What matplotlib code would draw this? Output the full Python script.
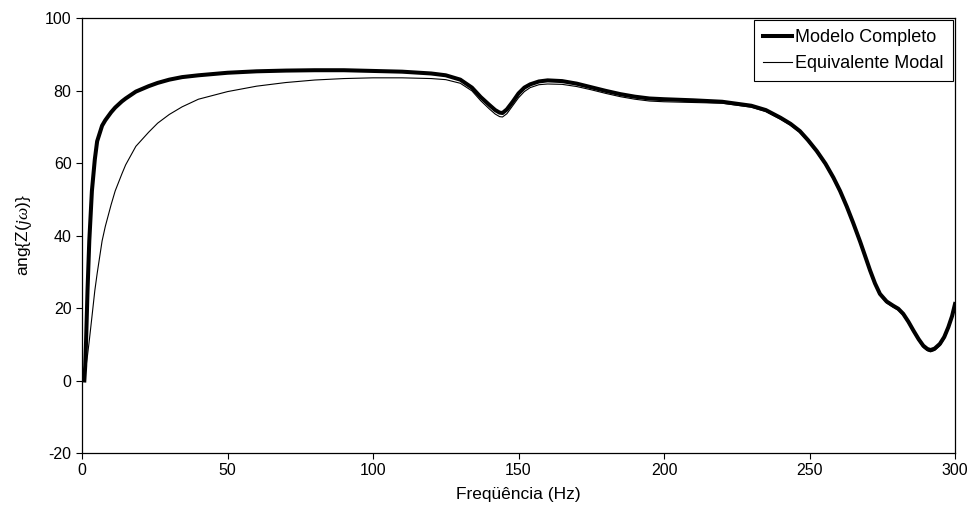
import matplotlib
matplotlib.use("Agg")
import matplotlib.pyplot as plt

# frequency grid (Hz)
freq = [0.8, 1.1, 1.4, 1.9, 2.5, 3.4, 4.4, 5.2, 6.9, 8, 10, 11.4, 13.7, 15,
        18.5, 22.9, 26, 30, 34.4, 40, 50, 60, 70, 80, 90, 100, 110, 120,
        125, 130, 134, 137, 140, 142, 143.5, 144.5, 146, 148, 150, 152, 154,
        157, 160, 165, 170, 175, 180, 185, 190, 195, 200, 210, 220, 230,
        235, 240, 243.5, 246.7, 249.5, 252.5, 255.5, 258.2, 260.5, 262.8,
        265, 267.4, 269, 270.8, 272.5, 274.2, 276.5, 278.8, 280.5, 282.2,
        284, 285.7, 287.5, 289.1, 290.5, 291.6, 293, 294.8, 296.3, 297.7,
        299, 300]

# phase angle (deg) - full model
ang_completo = [0, 4, 11, 25, 38.5, 52.3, 61, 66, 70.3, 71.8, 74, 75.3, 77,
                77.8, 79.7, 81.2, 82.1, 83, 83.7, 84.2, 84.9, 85.3, 85.5,
                85.6, 85.6, 85.4, 85.2, 84.7, 84.2, 83, 80.8, 78.2, 76,
                74.6, 73.9, 73.8, 74.8, 76.9, 79.2, 80.8, 81.7, 82.5, 82.8,
                82.6, 81.9, 80.9, 79.9, 79, 78.3, 77.8, 77.6, 77.3, 76.9,
                75.8, 74.6, 72.5, 70.8, 68.8, 66.3, 63.3, 59.8, 56, 52.3,
                48, 43.5, 38.3, 34.6, 30.4, 26.8, 23.9, 21.8, 20.6, 19.8,
                18.4, 16.2, 13.8, 11.4, 9.6, 8.7, 8.4, 8.8, 10.1, 12, 14.7,
                17.8, 21.1]

# phase angle (deg) - modal equivalent
ang_modal = [0, 2, 4, 7, 11, 17.5, 24.8, 29.5, 38.5, 42.5, 48.5, 52.3, 57,
             59.5, 64.6, 68.5, 71, 73.4, 75.5, 77.6, 79.7, 81.2, 82.2, 82.9,
             83.3, 83.5, 83.5, 83.3, 83, 82, 79.9, 77.2, 74.9, 73.5, 72.8,
             72.7, 73.6, 75.8, 78, 79.7, 80.8, 81.6, 81.8, 81.7, 81.1, 80.2,
             79.2, 78.3, 77.6, 77.1, 76.9, 76.7, 76.5, 75.4, 74.2, 72.1,
             70.4, 68.4, 65.9, 62.9, 59.4, 55.6, 51.9, 47.6, 43.1, 37.9,
             34.2, 30, 26.4, 23.5, 21.4, 20.2, 19.4, 18, 15.8, 13.4, 11,
             9.1, 8.2, 7.9, 8.3, 9.6, 11.5, 14.2, 17.3, 20.6]

plt.rcParams['font.family'] = ['Liberation Sans', 'DejaVu Sans']
plt.rcParams['mathtext.fontset'] = 'custom'
plt.rcParams['mathtext.it'] = 'Liberation Serif:italic'
plt.rcParams['axes.unicode_minus'] = False
plt.rcParams['font.size'] = 11.5

fig = plt.figure(figsize=(9.74, 5.24), dpi=100)
ax = fig.add_axes([0.0842, 0.1355, 0.8963, 0.8301])

ax.plot(freq, ang_completo, color='black', lw=2.9, solid_joinstyle='round',
        label='Modelo Completo')
ax.plot(freq, ang_modal, color='black', lw=0.8, solid_joinstyle='round',
        label='Equivalente Modal')

ax.set_xlim(0, 300)
ax.set_ylim(-20, 100)
ax.set_xticks(range(0, 301, 50))
ax.set_yticks(range(-20, 101, 20))
ax.tick_params(direction='out', length=4, width=0.8, color='black',
               labelsize=11.5)
for sp in ax.spines.values():
    sp.set_linewidth(0.9)

ax.set_xlabel('Freqüência (Hz)', fontsize=12.5, labelpad=6)
ax.set_ylabel(r'ang{Z($j\omega$)}', fontsize=12.5, labelpad=8)

leg = ax.legend(loc='upper right', fancybox=False, framealpha=1,
                edgecolor='black', borderaxespad=0.12, handlelength=1.6,
                handletextpad=0.2, borderpad=0.5, labelspacing=0.5,
                fontsize=13)
leg.get_frame().set_linewidth(0.8)

fig.savefig('out.png', dpi=100)
